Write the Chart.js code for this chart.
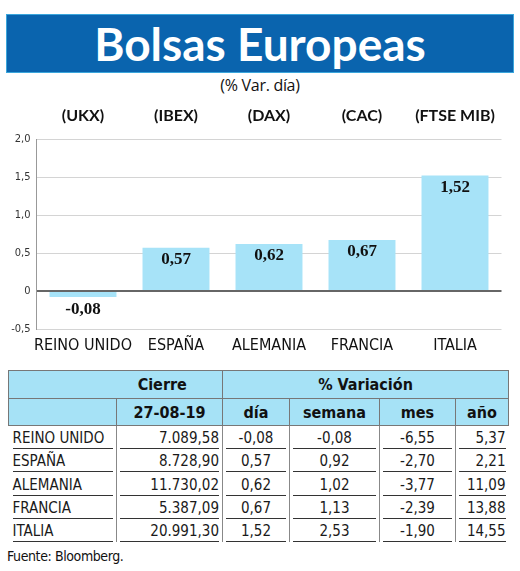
<!DOCTYPE html>
<html>
<head>
<meta charset="utf-8">
<script src="https://cdn.jsdelivr.net/npm/chart.js@4/dist/chart.umd.min.js"></script>
<style>
  body { margin: 0; width: 520px; height: 571px; background: #fff; position: relative; overflow: hidden; font-family: "DejaVu Sans Condensed", "Liberation Sans Narrow", sans-serif; color: #111; }
  #title { position: absolute; left: 6px; top: 14px; width: 506px; height: 57px; background: #0a64ae; border: 1px solid #3aa6dc; color: #fff; font: 700 46px Lato, sans-serif; text-align: center; line-height: 57px; }
  #sub { position: absolute; left: 0; width: 520px; top: 74px; text-align: center; font: 16px "Open Sans", sans-serif; letter-spacing: -0.3px; }
  #chartBox { position: absolute; left: 0; top: 95px; width: 520px; height: 265px; }
  table { position: absolute; left: 8px; top: 370px; border-collapse: collapse; table-layout: fixed; width: 500px; }
  td { padding: 0; font-size: 15px; white-space: nowrap; }
  .h td { background: #a6e2f6; font-weight: 700; text-align: center; font-size: 16px; }
  .h1 td { height: 27px; border-top: 1px solid #777; border-bottom: 1px solid #777; }
  .h2 td { height: 26px; border-bottom: 1px solid #777; border-left: 1px solid #777; }
  .d td { height: 23.2px; border-left: 1px solid #888; vertical-align: bottom; color: #1a1a1a; }
  .d td div { border-bottom: 1.5px solid #333; margin: 0 3px; line-height: 20px; }
  #src { position: absolute; left: 7px; top: 548px; font-size: 14px; letter-spacing: -0.4px; }
</style>
</head>
<body>
<div id="title">Bolsas Europeas</div>
<div id="sub">(% Var. día)</div>
<div id="chartBox"><canvas id="chart" width="520" height="265"></canvas></div>
<table id="tbl"></table>
<div id="src">Fuente: Bloomberg.</div>
<script>
const categories = ["REINO UNIDO", "ESPAÑA", "ALEMANIA", "FRANCIA", "ITALIA"];
const codes = ["(UKX)", "(IBEX)", "(DAX)", "(CAC)", "(FTSE MIB)"];
const dayChange = [-0.08, 0.57, 0.62, 0.67, 1.52];
const yMin = -0.5, yMax = 2.0, yStep = 0.5;

const closeDate = "27-08-19";
const closes = [7089.58, 8728.90, 11730.02, 5387.09, 20991.30];
const weekChange = [-0.08, 0.92, 1.02, 1.13, 2.53];
const monthChange = [-6.55, -2.70, -3.77, -2.39, -1.90];
const yearChange = [5.37, 2.21, 11.09, 13.88, 14.55];

const narrow = "'DejaVu Sans Condensed', 'Liberation Sans Narrow', sans-serif";

function comma(v, d = 2) {
  return v.toFixed(d).replace(".", ",");
}
function spanishNum(v) {
  const [ent, dec] = v.toFixed(2).split(".");
  return ent.replace(/\B(?=(\d{3})+(?!\d))/g, ".") + "," + dec;
}

// etiquetas de valor sobre las barras
const valueLabels = {
  id: "valueLabels",
  afterDatasetsDraw(chart) {
    const ctx = chart.ctx;
    const meta = chart.getDatasetMeta(0);
    ctx.save();
    ctx.font = "bold 17px 'Liberation Serif', serif";
    ctx.fillStyle = "#111";
    ctx.textAlign = "center";
    ctx.textBaseline = "middle";
    meta.data.forEach((bar, i) => {
      const v = dayChange[i];
      ctx.fillText(comma(v), bar.x, v >= 0 ? bar.y + 12 : bar.y + 13);
    });
    ctx.restore();
  },
};

new Chart(document.getElementById("chart"), {
  type: "bar",
  data: {
    labels: categories,
    datasets: [
      {
        data: dayChange,
        backgroundColor: "#a7e3f8",
        borderWidth: 0,
        barPercentage: 0.72,
        categoryPercentage: 1.0,
      },
    ],
  },
  options: {
    responsive: false,
    animation: false,
    layout: { padding: { left: 0, right: 18.5, top: 0, bottom: 0 } },
    plugins: { legend: { display: false }, tooltip: { enabled: false } },
    scales: {
      x: {
        position: "bottom",
        grid: { display: false, drawTicks: false },
        border: { display: false },
        ticks: { color: "#111", padding: 7, maxRotation: 0, autoSkip: false, font: { family: narrow, size: 16 } },
        afterFit: (s) => { s.height = 31; s.paddingLeft = 0; s.paddingRight = 0; },
      },
      x2: {
        type: "category",
        position: "top",
        labels: codes,
        grid: { display: false, drawTicks: false },
        border: { display: false },
        ticks: { color: "#111", padding: 14, maxRotation: 0, autoSkip: false, font: { family: "Lato, sans-serif", size: 16, weight: "bold" } },
        afterFit: (s) => { s.height = 44; s.paddingLeft = 0; s.paddingRight = 0; },
      },
      y: {
        min: yMin,
        max: yMax,
        ticks: {
          stepSize: yStep,
          color: "#333",
          padding: 6,
          font: { family: narrow, size: 11 },
          callback: (v) => (v === 0 ? "0" : comma(v, 1)),
        },
        grid: {
          drawTicks: false,
          color: (c) => (c.tick && c.tick.value === 0 ? "#666" : "#d4d4d4"),
          lineWidth: (c) => (c.tick && c.tick.value === 0 ? 2 : 1),
        },
        border: { color: "#999", width: 1 },
        afterFit: (s) => { s.width = 36.5; },
      },
    },
  },
  plugins: [valueLabels],
});

// tabla de cierres
const colWidths = [108, 106, 67, 90, 76, 53];
let html = "<colgroup>" + colWidths.map((w) => `<col style="width:${w}px">`).join("") + "</colgroup>";
html += `<tr class="h h1"><td style="border-left:1px solid #777"></td><td style="padding-right:14px">Cierre</td><td colspan="4" style="border-left:1px solid #777;border-right:1px solid #777">% Variación</td></tr>`;
html += `<tr class="h h2"><td></td><td>${closeDate}</td><td>día</td><td>semana</td><td>mes</td><td style="border-right:1px solid #777">año</td></tr>`;
categories.forEach((c, i) => {
  html += `<tr class="d">
    <td style="border-left:none"><div style="text-align:left;margin-left:4px">${c}</div></td>
    <td><div style="text-align:right">${spanishNum(closes[i])}</div></td>
    <td><div style="text-align:center">${comma(dayChange[i])}</div></td>
    <td><div style="text-align:center">${comma(weekChange[i])}</div></td>
    <td><div style="text-align:center">${comma(monthChange[i])}</div></td>
    <td><div style="text-align:right">${comma(yearChange[i])}</div></td>
  </tr>`;
});
document.getElementById("tbl").innerHTML = html;
</script>
</body>
</html>
